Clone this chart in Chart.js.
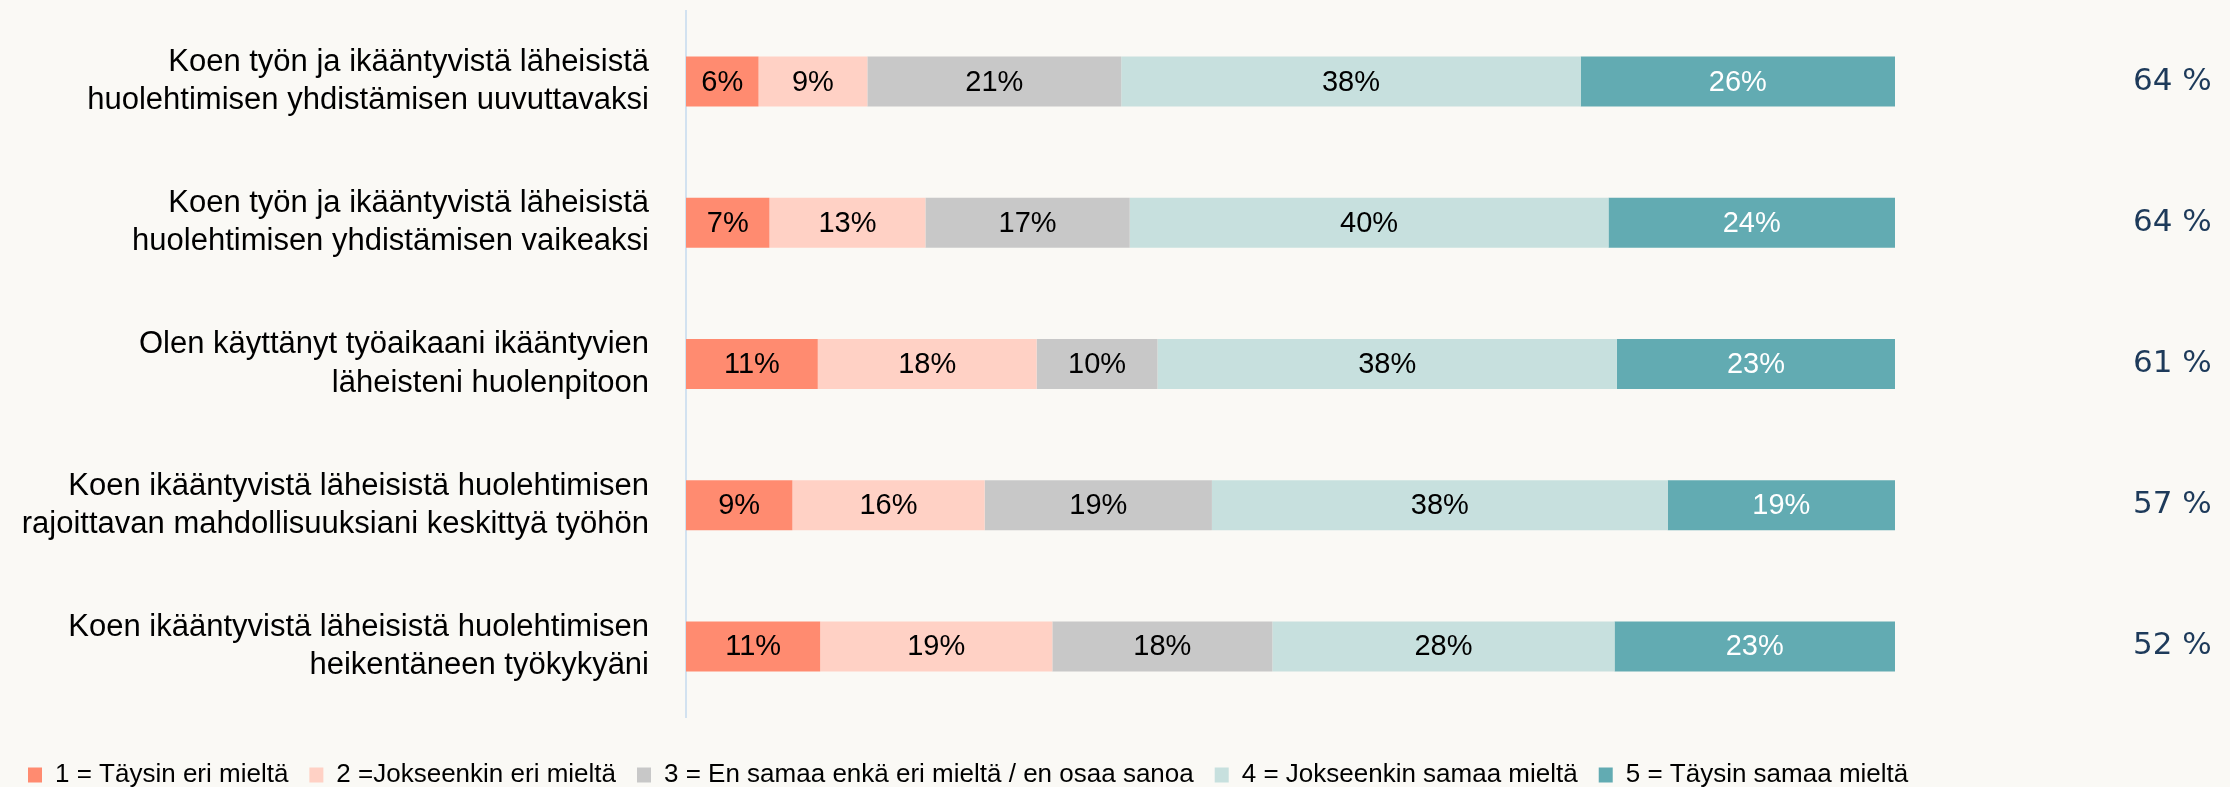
<!DOCTYPE html>
<html><head><meta charset="utf-8">
<script src="https://cdn.jsdelivr.net/npm/chart.js@4.4.1/dist/chart.umd.min.js"></script>
<style>html,body{margin:0;padding:0;background:#faf9f5;} #wrap{width:2230px;height:787px;position:relative;}</style>
</head><body><div id="wrap"><canvas id="c"></canvas></div>
<script>
const categories = [
  ['Koen työn ja ikääntyvistä läheisistä', 'huolehtimisen yhdistämisen uuvuttavaksi'],
  ['Koen työn ja ikääntyvistä läheisistä', 'huolehtimisen yhdistämisen vaikeaksi'],
  ['Olen käyttänyt työaikaani ikääntyvien', 'läheisteni huolenpitoon'],
  ['Koen ikääntyvistä läheisistä huolehtimisen', 'rajoittavan mahdollisuuksiani keskittyä työhön'],
  ['Koen ikääntyvistä läheisistä huolehtimisen', 'heikentäneen työkykyäni']
];
const seriesNames = [
  '1 = Täysin eri mieltä',
  '2 =Jokseenkin eri mieltä',
  '3 = En samaa enkä eri mieltä / en osaa sanoa',
  '4 = Jokseenkin samaa mieltä',
  '5 = Täysin samaa mieltä'
];
const s1 = [6.0, 6.9, 10.9, 8.8, 11.1];
const s2 = [9.0, 12.9, 18.1, 15.9, 19.2];
const s3 = [21.0, 16.9, 10.0, 18.8, 18.2];
const s4 = [38.0, 39.6, 38.0, 37.7, 28.3];
const s5 = [26.0, 23.7, 23.0, 18.8, 23.2];
const agreeTotals = [64, 64, 61, 57, 52];
const totalLabels = agreeTotals.map(v => v + ' %');
const seriesColors = ['#ff8b70', '#ffd1c5', '#c8c8c8', '#c7e0de', '#62abb2'];
const labelColors = ['#000000', '#000000', '#000000', '#000000', '#ffffff'];

const FONT = '"Liberation Sans", Arial, sans-serif';

const barLabels = {
  id: 'barLabels',
  afterDatasetsDraw(chart) {
    const ctx = chart.ctx;
    ctx.save();
    ctx.font = '29px ' + FONT;
    ctx.textAlign = 'center';
    ctx.textBaseline = 'middle';
    chart.data.datasets.forEach((ds, di) => {
      const meta = chart.getDatasetMeta(di);
      meta.data.forEach((el, i) => {
        ctx.fillStyle = labelColors[di];
        ctx.fillText(Math.round(ds.data[i]) + '%', (el.x + el.base) / 2, el.y + 1);
      });
    });
    ctx.restore();
  }
};

function noPad(s) { s.paddingTop = 0; s.paddingBottom = 0; }

new Chart(document.getElementById('c'), {
  type: 'bar',
  data: {
    labels: categories,
    datasets: seriesNames.map((n, i) => ({
      label: n,
      data: [s1, s2, s3, s4, s5][i],
      backgroundColor: seriesColors[i],
      borderWidth: 0,
      barPercentage: 0.354,
      categoryPercentage: 1
    }))
  },
  options: {
    indexAxis: 'y',
    responsive: true,
    maintainAspectRatio: false,
    animation: false,
    devicePixelRatio: 1,
    layout: { padding: { top: 11, left: 7, right: 0, bottom: 0 } },
    scales: {
      x: {
        stacked: true, min: 0, max: 100,
        grid: { display: false, drawTicks: false },
        border: { display: false },
        ticks: { display: false },
        afterFit(s) { s.height = 24; }
      },
      y: {
        stacked: true,
        grid: { display: false, drawTicks: false },
        border: { display: true, color: '#d2e2f0', width: 2 },
        ticks: { padding: 37, color: '#000000', font: { size: 31, family: FONT, lineHeight: 1.23 } },
        afterFit(s) { s.width = 679; noPad(s); }
      },
      yr: {
        type: 'category',
        position: 'right',
        labels: totalLabels,
        offset: true,
        grid: { display: false, drawTicks: false },
        border: { display: false },
        ticks: { padding: 238, color: '#1d3a5a', font: { size: 31, family: '"DejaVu Sans", sans-serif' } },
        afterFit(s) { s.width = 335; noPad(s); }
      }
    },
    plugins: {
      legend: {
        position: 'bottom',
        align: 'start',
        maxHeight: 46,
        labels: { boxWidth: 14, boxHeight: 15, padding: 21, color: '#000000', font: { size: 26, family: FONT } }
      },
      tooltip: { enabled: false }
    }
  },
  plugins: [barLabels]
});
</script>
</body></html>
